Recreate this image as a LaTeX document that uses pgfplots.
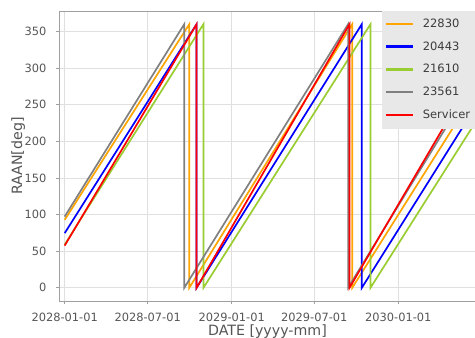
\documentclass[border=0pt]{standalone}
\usepackage{fontspec}
\setmainfont{DejaVu Sans}
\usepackage{pgfplots}
\pgfplotsset{compat=1.18}

\definecolor{c22830}{HTML}{FFA500}
\definecolor{c20443}{HTML}{0000FF}
\definecolor{c21610}{HTML}{9ACD32}
\definecolor{c23561}{HTML}{808080}
\definecolor{cserv}{HTML}{FF0000}
\definecolor{txt}{HTML}{555555}
\definecolor{legtxt}{HTML}{3C3C3C}
\definecolor{framec}{HTML}{A0A0A0}
\definecolor{gridc}{HTML}{E0E0E0}
\definecolor{legfill}{HTML}{E8E8E8}

\begin{document}
\begin{tikzpicture}
\begin{axis}[
  name=main,
  scale only axis,
  width=416.3pt, height=290pt,
  xmin=-11.8, xmax=900.3,
  ymin=-18, ymax=378,
  % x is measured in days since 2028-01-01
  xtick={0,182,366,547,731},
  xticklabels={2028-01-01,2028-07-01,2029-01-01,2029-07-01,2030-01-01},
  ytick={0,50,...,350},
  grid=major,
  major grid style={gridc, line width=0.8pt},
  axis line style={framec, line width=0.8pt},
  tick style={framec, line width=0.8pt},
  tick align=outside,
  major tick length=3.5pt,
  tick pos=left,
  /pgf/number format/assume math mode=true,
  ticklabel style={font=\fontsize{11.4}{13}\selectfont, text=txt, inner sep=0pt},
  xticklabel style={anchor=base, yshift=-17.3pt},
  yticklabel style={anchor=east, xshift=-9.3pt},
  xlabel={DATE [yyyy-mm]},
  ylabel={RAAN[deg]},
  every axis x label/.style={at={(axis description cs:0.5,0)}, anchor=base,
    yshift=-35pt, font=\fontsize{14.2}{16}\selectfont, text=txt},
  every axis y label/.style={at={(axis description cs:-0.0986,0.5)}, rotate=90,
    anchor=center, font=\fontsize{14.2}{16}\selectfont, text=txt},
  legend style={
    at={(1,1)}, anchor=north east,
    fill=legfill, draw=legfill,
    font=\fontsize{11.5}{13}\selectfont, text=legtxt,
    inner xsep=3.3pt, inner ysep=5.5pt,
    row sep=8.85pt, column sep=8.3pt,
  },
  legend cell align=left,
  % legend sample: a short bar in the series colour
  legend image code/.code={%
    \fill[#1, draw=none] (0pt,-1.1pt) rectangle (26.7pt,1.1pt);},
]
\addplot[color=c22830, line width=1.7pt] coordinates {
  (0,92.8) (273,360) (273,0) (630,360) (630,0) (905,272)
};
\addlegendentry{22830}
\addplot[color=c20443, line width=1.7pt] coordinates {
  (0,74.6) (289,360) (289,0) (651,360) (651,0) (905,252)
};
\addlegendentry{20443}
\addplot[color=c21610, line width=1.7pt] coordinates {
  (0,59) (304,360) (304,0) (670,360) (670,0) (905,231)
};
\addlegendentry{21610}
\addplot[color=c23561, line width=1.7pt] coordinates {
  (0,97.3) (262,360) (262,0) (621,360) (621,0) (905,290)
};
\addlegendentry{23561}
\addplot[color=cserv, line width=1.7pt] coordinates {
  (0,57.6) (289,360) (289,0) (624,360) (624,0) (844,234)
};
\addlegendentry{Servicer}
\end{axis}
\pgfresetboundingbox
\path[use as bounding box] ([xshift=-59.3pt,yshift=-37pt]main.south west)
  rectangle ([xshift=-0.6pt,yshift=11pt]main.north east);
\end{tikzpicture}
\end{document}
